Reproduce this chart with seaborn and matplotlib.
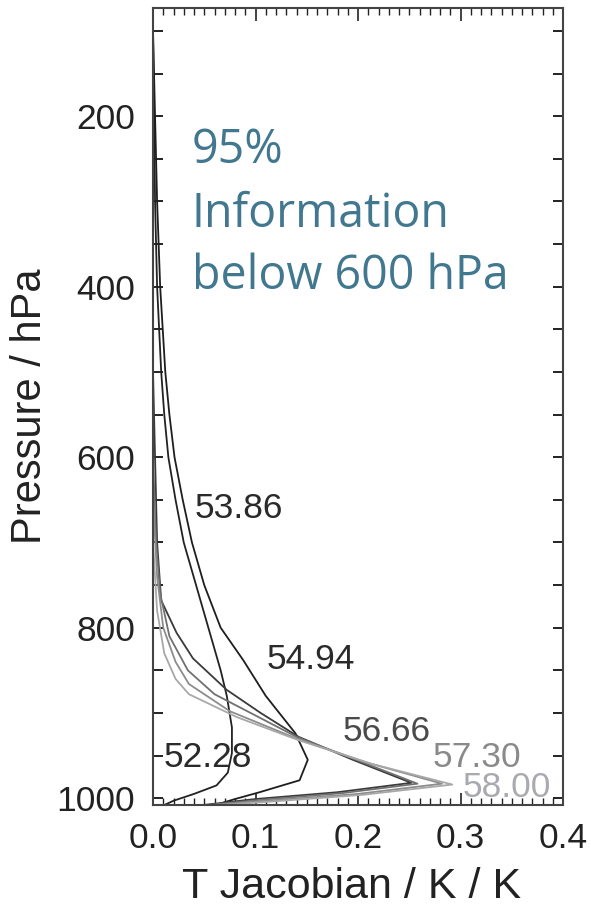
import numpy as np
import pandas as pd
import matplotlib
matplotlib.use("Agg")
import matplotlib.pyplot as plt
import seaborn as sns
from matplotlib.ticker import MultipleLocator

# ---------------- data ----------------
channels = ["52.28", "53.86", "54.94", "56.66", "57.30", "58.00"]

p_5228 = [100, 200, 300, 400, 500, 550, 600, 650, 700, 750, 800, 850, 880, 917, 947, 970, 985, 995, 1003, 1012]
j_5228 = [0.000, 0.001, 0.002, 0.004, 0.008, 0.011, 0.015, 0.022, 0.030, 0.042, 0.054, 0.066, 0.072, 0.077, 0.077, 0.073, 0.062, 0.040, 0.020, 0.004]

p_5386 = [100, 200, 300, 400, 500, 550, 600, 650, 700, 750, 800, 838, 880, 924, 955, 979, 993, 1001, 1012]
j_5386 = [0.000, 0.002, 0.004, 0.007, 0.012, 0.016, 0.021, 0.029, 0.038, 0.050, 0.066, 0.088, 0.110, 0.139, 0.151, 0.143, 0.104, 0.080, 0.050]

p_5494 = [500, 600, 700, 768, 806, 836, 873, 900, 928, 955, 982, 993, 1001, 1012]
j_5494 = [0.000, 0.002, 0.004, 0.008, 0.023, 0.039, 0.072, 0.105, 0.142, 0.195, 0.252, 0.180, 0.100, 0.020]

p_5666 = [600, 700, 760, 810, 850, 878, 928, 955, 983, 994, 1002, 1012]
j_5666 = [0.000, 0.003, 0.007, 0.016, 0.034, 0.060, 0.140, 0.198, 0.258, 0.185, 0.105, 0.020]

p_5730 = [650, 740, 800, 840, 866, 898, 930, 958, 983, 995, 1003, 1012]
j_5730 = [0.000, 0.004, 0.010, 0.022, 0.035, 0.075, 0.140, 0.208, 0.282, 0.200, 0.110, 0.020]

p_5800 = [700, 780, 830, 860, 878, 905, 932, 960, 984, 996, 1004, 1012]
j_5800 = [0.000, 0.004, 0.011, 0.022, 0.035, 0.082, 0.142, 0.214, 0.292, 0.205, 0.115, 0.020]

y_ticks = [200, 400, 600, 800, 1000]
x_ticks = [0.0, 0.1, 0.2, 0.3, 0.4]

annotation_lines = ["95%", "Information", "below 600 hPa"]

# ---------------- build long table ----------------
pressures = [p_5228, p_5386, p_5494, p_5666, p_5730, p_5800]
jacobians = [j_5228, j_5386, j_5494, j_5666, j_5730, j_5800]
frames = []
for ch, pp, jj in zip(channels, pressures, jacobians):
    frames.append(pd.DataFrame({"channel": ch, "p": pp, "jac": jj}))
df = pd.concat(frames, ignore_index=True)

line_colors = {"52.28": "#222222", "53.86": "#1e1e1e", "54.94": "#3a3a3a",
               "56.66": "#707070", "57.30": "#8c8c8c", "58.00": "#a8a8a8"}
label_colors = {"52.28": "#2a2a2a", "53.86": "#2a2a2a", "54.94": "#2a2a2a",
                "56.66": "#4a4a4a", "57.30": "#8a8a8a", "58.00": "#a8aab0"}
label_pos = {"53.86": (0.041, 660), "54.94": (0.111, 837), "52.28": (0.010, 952),
             "56.66": (0.185, 922), "57.30": (0.273, 952), "58.00": (0.302, 987)}

# ---------------- plot ----------------
sns.set_style("ticks")
plt.rcParams["font.family"] = ["Liberation Sans", "DejaVu Sans"]

fig = plt.figure(figsize=(5.91, 9.14), dpi=100)
ax = fig.add_axes([153 / 591, 1 - 805 / 914, 410 / 591, 797 / 914])

sns.lineplot(data=df, x="jac", y="p", hue="channel", palette=line_colors,
             sort=False, estimator=None, legend=False, linewidth=1.3, ax=ax)

ax.set_xlim(0.0, 0.4)
ax.set_ylim(1008, 73)

ax.set_xticks(x_ticks)
ax.set_xticklabels([f"{v:.1f}" for v in x_ticks])
ax.xaxis.set_minor_locator(MultipleLocator(0.01))
ax.set_yticks(y_ticks)
ax.set_yticklabels([str(v) for v in y_ticks])
ax.yaxis.set_minor_locator(MultipleLocator(50))

ax.tick_params(axis="both", which="both", direction="in", top=True, right=True,
               colors="#222222", labelsize=25.5)
ax.tick_params(axis="x", which="major", length=9, width=1.2, pad=12)
ax.tick_params(axis="x", which="minor", length=5, width=1.0)
ax.tick_params(axis="y", which="major", length=7, width=1.4, pad=13)
ax.tick_params(axis="y", which="minor", length=7, width=1.4)

for s in ax.spines.values():
    s.set_color("#444444")
    s.set_linewidth(1.5)

ax.set_xlabel("T Jacobian / K / K", fontsize=31, color="#222222")
ax.set_ylabel("Pressure / hPa", fontsize=30, color="#222222")
ax.xaxis.label.set_va("center")
ax.yaxis.label.set_va("center")
ax.xaxis.set_label_coords((352 - 153) / 410, (805 - 887) / 797)
ax.yaxis.set_label_coords((30 - 153) / 410, (805 - 406) / 797)

for ch in channels:
    x0, p0 = label_pos[ch]
    ax.text(x0, p0, ch, fontsize=25.5, color=label_colors[ch], ha="left", va="center")

y_px = [150, 214, 276]
for txt, yp in zip(annotation_lines, y_px):
    fig.text(192 / 591, 1 - yp / 914, txt, fontsize=33.5, color="#41788f",
             family=["Open Sans", "DejaVu Sans"], ha="left", va="center")

fig.savefig("out.png", dpi=100)
